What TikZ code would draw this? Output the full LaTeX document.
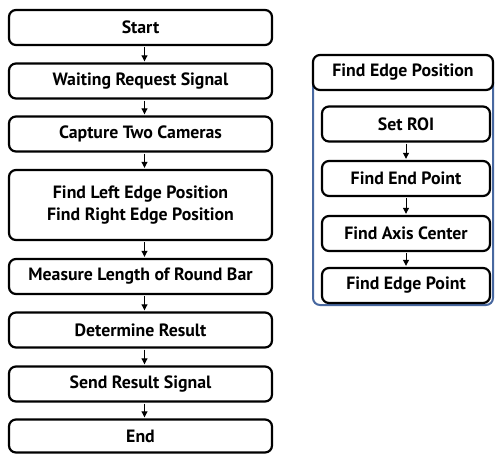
\documentclass[tikz,border=0pt]{standalone}
\usepackage{fontspec}
\setmainfont{PT Sans}
\usetikzlibrary{arrows.meta}
\definecolor{boxblue}{RGB}{72,104,160}
\tikzset{
  stepbox/.style={draw=black, line width=2.2pt, rounded corners=7pt, fill=white,
    minimum width=263pt, minimum height=35pt, inner sep=0pt, align=center,
    font=\fontsize{17.8}{22}\selectfont\bfseries},
  subbox/.style={stepbox, minimum width=168pt},
  flow/.style={-{Triangle[length=6pt,width=6pt]}, line width=1pt, shorten <=1.1pt, shorten >=1.1pt}
}
\begin{document}
\begin{tikzpicture}[x=1pt,y=-1pt]
\useasboundingbox (0,0) rectangle (495,453);
% left flow
\node[stepbox] (start) at (140.5,27.5) {Start};
\node[stepbox] (wait) at (140.5,81) {Waiting Request Signal};
\node[stepbox] (cap) at (140.5,134) {Capture Two Cameras};
\node[stepbox, minimum height=70pt] (find) at (140.5,205) {Find Left Edge Position\\Find Right Edge Position};
\node[stepbox] (meas) at (140.5,276.5) {Measure Length of Round Bar};
\node[stepbox] (det) at (140.5,330) {Determine Result};
\node[stepbox] (send) at (140.5,384) {Send Result Signal};
\node[stepbox, minimum height=33pt] (end) at (140.5,436) {End};
\foreach \a/\b in {start/wait, wait/cap, cap/find, find/meas, meas/det, det/send, send/end}
  \draw[flow] ([xshift=4pt]\a.south) -- ([xshift=4pt]\b.north);
% right container
\draw[boxblue, line width=2pt, rounded corners=7pt] (313,75) rectangle (493,305);
\node[stepbox, minimum width=180pt] (head) at (403,72.5) {Find Edge Position};
\node[subbox] (roi) at (406,124) {Set ROI};
\node[subbox] (endp) at (406,178.5) {Find End Point};
\node[subbox] (axis) at (406,233.5) {Find Axis Center};
\node[subbox] (edge) at (406,285.5) {Find Edge Point};
\draw[flow] (roi) -- (endp);
\draw[flow] (endp) -- (axis);
\draw[flow] (axis) -- (edge);
\end{tikzpicture}
\end{document}
